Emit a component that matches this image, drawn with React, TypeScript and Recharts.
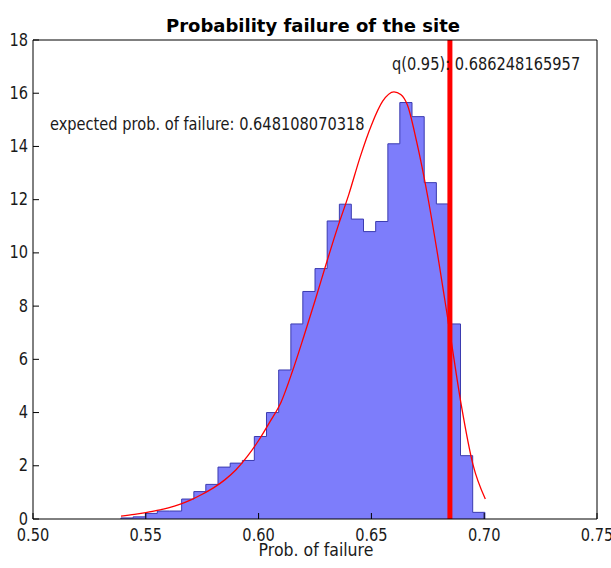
import React from 'react';
import {
  ComposedChart,
  Area,
  Line,
  XAxis,
  YAxis,
  ReferenceLine,
  ReferenceDot,
} from 'recharts';

// histogram bin edges (30 bins) and bar heights (density)
const binEdges = [
  0.539, 0.5444, 0.5498, 0.5551, 0.5605, 0.5659, 0.5713, 0.5766, 0.582, 0.5874,
  0.5928, 0.5981, 0.6035, 0.6089, 0.6143, 0.6196, 0.625, 0.6304, 0.6358, 0.6411,
  0.6465, 0.6519, 0.6573, 0.6626, 0.668, 0.6734, 0.6788, 0.6841, 0.6895, 0.6949,
  0.7003,
];
const binHeights = [
  0.04, 0.08, 0.21, 0.3, 0.3, 0.75, 1.03, 1.3, 1.95, 2.1,
  2.2, 3.1, 4.0, 5.6, 7.33, 8.55, 9.41, 11.2, 11.83, 11.27,
  10.8, 11.18, 14.1, 15.65, 15.12, 12.64, 11.84, 7.33, 2.38, 0.25,
];

// kernel density estimate (red curve)
const kdeX = [
  0.539, 0.545, 0.55, 0.555, 0.56, 0.565, 0.57, 0.575, 0.58, 0.585, 0.59, 0.595,
  0.6, 0.605, 0.61, 0.615, 0.62, 0.625, 0.63, 0.635, 0.64, 0.645, 0.65, 0.655,
  0.66, 0.663, 0.666, 0.67, 0.675, 0.68, 0.685, 0.69, 0.695, 0.7005,
];
const kdeY = [
  0.11, 0.17, 0.24, 0.32, 0.42, 0.55, 0.72, 0.93, 1.17, 1.47, 1.85, 2.35,
  2.95, 3.65, 4.4, 5.55, 6.85, 8.2, 9.6, 10.95, 12.2, 13.6, 14.8, 15.7,
  16.05, 15.95, 15.55, 14.2, 12.1, 9.6, 6.9, 4.2, 2.05, 0.75,
];

const xTicks = [0.5, 0.55, 0.6, 0.65, 0.7, 0.75];
const yTicks = [0, 2, 4, 6, 8, 10, 12, 14, 16, 18];

const expectedProb = '0.648108070318';
const q95Label = '0.686248165957';
// where the quantile line sits in the picture
const q95Line = 0.6848;

const FONT = '"DejaVu Sans", Verdana, sans-serif';
const SQ = 0.86;

const histData = [
  { x: binEdges[0], h: 0 },
  ...binHeights.map((h, i) => ({ x: binEdges[i], h })),
  { x: binEdges[binEdges.length - 1], h: binHeights[binHeights.length - 1] },
  { x: binEdges[binEdges.length - 1], h: 0 },
];
const kdeData = kdeX.map((x, i) => ({ x, y: kdeY[i] }));

const XTick = (props: any) => {
  const { x, y, payload } = props;
  return (
    <text
      transform={`translate(${x},${y + 22}) scale(${SQ},1)`}
      textAnchor="middle"
      fontSize={17}
      fontFamily={FONT}
      fill="#1a1a1a"
    >
      {Number(payload.value).toFixed(2)}
    </text>
  );
};

const YTick = (props: any) => {
  const { x, y, payload } = props;
  return (
    <text
      transform={`translate(${x - 5},${y + 5.5}) scale(${SQ},1)`}
      textAnchor="end"
      fontSize={17}
      fontFamily={FONT}
      fill="#1a1a1a"
    >
      {payload.value}
    </text>
  );
};

const Annot = (props: any) => {
  const { viewBox, text } = props;
  const x = viewBox.x + viewBox.width / 2;
  const y = viewBox.y + viewBox.height / 2;
  return (
    <text
      transform={`translate(${x},${y}) scale(${SQ},1)`}
      textAnchor="start"
      fontSize={17}
      fontFamily={FONT}
      fill="#1a1a1a"
    >
      {text}
    </text>
  );
};

const axisStroke = { stroke: '#000', strokeWidth: 1 };

export default function App() {
  return (
    <div style={{ position: 'absolute', left: 0, top: 0, width: 611, height: 568, background: '#fff' }}>
      <ComposedChart
        width={611}
        height={568}
        margin={{ top: 39, right: 13, bottom: 0, left: 0 }}
      >
        <XAxis
          dataKey="x"
          type="number"
          domain={[0.5, 0.75]}
          ticks={xTicks}
          interval={0}
          allowDataOverflow
          height={49}
          tickSize={-6}
          tickMargin={6}
          axisLine={axisStroke}
          tickLine={axisStroke}
          tick={<XTick />}
        />
        <XAxis
          xAxisId="top"
          dataKey="x"
          orientation="top"
          type="number"
          domain={[0.5, 0.75]}
          ticks={xTicks}
          interval={0}
          allowDataOverflow
          height={1}
          tickSize={-6}
          axisLine={axisStroke}
          tickLine={axisStroke}
          tick={false}
        />
        <YAxis
          type="number"
          domain={[0, 18]}
          ticks={yTicks}
          interval={0}
          allowDataOverflow
          width={33}
          tickSize={-6}
          tickMargin={6}
          axisLine={axisStroke}
          tickLine={axisStroke}
          tick={<YTick />}
        />
        <YAxis
          yAxisId="right"
          orientation="right"
          type="number"
          domain={[0, 18]}
          ticks={yTicks}
          interval={0}
          allowDataOverflow
          width={1}
          tickSize={-6}
          axisLine={axisStroke}
          tickLine={axisStroke}
          tick={false}
        />
        <Area
          data={histData}
          dataKey="h"
          type="stepAfter"
          fill="#7d7dfb"
          fillOpacity={1}
          stroke="#3b3bb0"
          strokeWidth={1}
          isAnimationActive={false}
          dot={false}
          activeDot={false}
        />
        {/* invisible copy so the top/right frame axes are registered */}
        <Line
          data={kdeData}
          dataKey="y"
          xAxisId="top"
          yAxisId="right"
          stroke="none"
          dot={false}
          activeDot={false}
          isAnimationActive={false}
        />
        <Line
          data={kdeData}
          dataKey="y"
          type="monotone"
          stroke="#ff0000"
          strokeWidth={1.3}
          dot={false}
          activeDot={false}
          isAnimationActive={false}
        />
        <ReferenceLine x={q95Line} stroke="#ff0000" strokeWidth={5} />
        <ReferenceDot
          x={0.5075}
          y={14.62}
          r={0}
          fill="none"
          stroke="none"
          label={<Annot text={`expected prob. of failure: ${expectedProb}`} />}
        />
        <ReferenceDot
          x={0.6591}
          y={16.86}
          r={0}
          fill="none"
          stroke="none"
          label={<Annot text={`q(0.95): ${q95Label}`} />}
        />
      </ComposedChart>
      <svg
        width={611}
        height={568}
        style={{ position: 'absolute', left: 0, top: 0, pointerEvents: 'none' }}
      >
        <text
          x={313}
          y={32}
          textAnchor="middle"
          fontSize={18}
          fontWeight="bold"
          fontFamily={FONT}
          fill="#000"
        >
          Probability failure of the site
        </text>
        <text
          transform="translate(316,556) scale(0.9,1)"
          textAnchor="middle"
          fontSize={17.5}
          fontFamily={FONT}
          fill="#1a1a1a"
        >
          Prob. of failure
        </text>
      </svg>
    </div>
  );
}
